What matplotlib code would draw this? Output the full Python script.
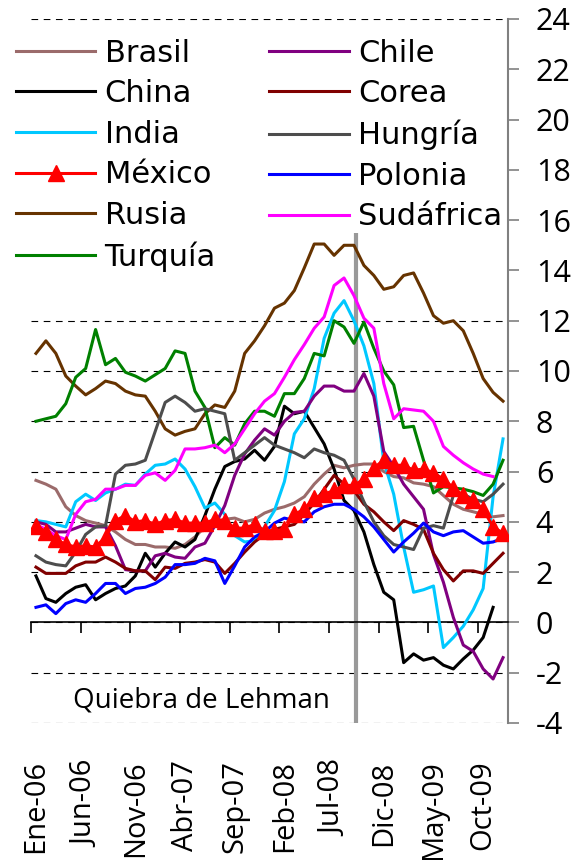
import matplotlib.pyplot as plt
from matplotlib.patches import Rectangle
import numpy as np

plt.rcParams['font.family'] = ['Open Sans', 'DejaVu Sans']
plt.rcParams['axes.unicode_minus'] = False

# Meses: Ene-06 ... Dic-09 (48 meses)
meses = ['Ene', 'Feb', 'Mar', 'Abr', 'May', 'Jun', 'Jul', 'Ago', 'Sep', 'Oct', 'Nov', 'Dic']
etiquetas = [f'{m}-{a:02d}' for a in range(6, 10) for m in meses]

brasil = [5.65, 5.5, 5.3, 4.6, 4.25, 4.05, 3.95, 3.85, 3.6, 3.3, 3.1, 3.1,
          3.0, 3.0, 2.95, 3.1, 3.4, 3.8, 4.0, 4.1, 4.15, 4.0, 4.1, 4.35,
          4.5, 4.6, 4.75, 5.0, 5.5, 5.9, 6.25, 6.15, 6.25, 6.3, 6.3, 6.0,
          5.8, 5.75, 5.55, 5.5, 5.4, 5.05, 4.7, 4.5, 4.4, 4.3, 4.2, 4.25]
china = [1.85, 0.95, 0.8, 1.15, 1.4, 1.5, 0.9, 1.15, 1.35, 1.45, 1.85, 2.75,
         2.2, 2.75, 3.2, 3.0, 3.3, 4.25, 5.3, 6.2, 6.4, 6.5, 6.85, 6.45,
         7.0, 8.6, 8.3, 8.4, 7.75, 7.1, 6.1, 4.85, 4.45, 3.6, 2.3, 1.2,
         0.9, -1.6, -1.25, -1.5, -1.4, -1.7, -1.85, -1.45, -1.1, -0.6, 0.6, np.nan]
india = [4.05, 4.0, 3.9, 3.8, 4.8, 5.1, 4.85, 5.15, 5.3, 5.5, 5.45, 5.9,
         6.25, 6.3, 6.5, 6.1, 5.4, 4.55, 4.75, 4.3, 3.45, 3.2, 3.25, 3.8,
         4.45, 5.6, 7.5, 8.1, 9.3, 11.3, 12.3, 12.8, 12.0, 11.0, 9.5, 6.4,
         5.1, 3.0, 1.2, 1.3, 1.45, -1.0, -0.6, -0.15, 0.5, 1.35, 5.0, 7.3]
mexico = [3.85, 3.6, 3.3, 3.1, 3.0, 3.05, 3.0, 3.4, 4.05, 4.25, 4.0, 4.05,
          3.9, 4.05, 4.1, 3.95, 3.95, 3.95, 4.1, 4.05, 3.75, 3.75, 3.9, 3.65,
          3.65, 3.7, 4.3, 4.5, 4.95, 5.1, 5.25, 5.45, 5.45, 5.7, 6.15, 6.45,
          6.25, 6.25, 6.05, 6.1, 5.95, 5.7, 5.35, 5.05, 4.85, 4.5, 3.8, 3.55]
rusia = [10.7, 11.2, 10.7, 9.8, 9.4, 9.05, 9.3, 9.6, 9.5, 9.2, 9.05, 9.0,
         8.4, 7.7, 7.45, 7.6, 7.7, 8.3, 8.65, 8.55, 9.2, 10.7, 11.2, 11.8,
         12.5, 12.7, 13.2, 14.1, 15.05, 15.05, 14.6, 15.0, 15.0, 14.2, 13.8, 13.25,
         13.35, 13.8, 13.9, 13.1, 12.2, 11.9, 12.0, 11.6, 10.7, 9.7, 9.15, 8.8]
turquia = [8.0, 8.1, 8.2, 8.7, 9.75, 10.1, 11.65, 10.25, 10.5, 9.95, 9.8, 9.6,
           9.85, 10.1, 10.8, 10.7, 9.2, 8.55, 6.95, 7.35, 7.05, 7.9, 8.4, 8.4,
           8.2, 9.1, 9.1, 9.7, 10.7, 10.6, 12.0, 11.75, 11.1, 11.95, 10.9, 10.0,
           9.45, 7.75, 7.8, 6.45, 5.15, 5.4, 5.35, 5.3, 5.2, 5.05, 5.5, 6.45]
chile = [4.0, 3.9, 3.6, 3.6, 3.75, 3.9, 3.8, 3.8, 3.05, 2.1, 2.05, 2.05,
         2.65, 2.75, 2.6, 2.55, 3.0, 3.15, 3.85, 4.65, 5.85, 6.7, 7.25, 7.7,
         7.45, 8.0, 8.35, 8.4, 9.0, 9.4, 9.4, 9.2, 9.2, 9.9, 9.0, 6.8,
         6.2, 5.5, 5.0, 4.5, 2.7, 1.6, 0.2, -0.9, -1.15, -1.85, -2.25, -1.4]
corea = [2.2, 1.95, 1.95, 1.95, 2.25, 2.4, 2.4, 2.6, 2.4, 2.15, 2.05, 2.05,
         1.7, 2.2, 2.15, 2.35, 2.4, 2.5, 2.4, 1.95, 2.35, 2.8, 3.2, 3.5,
         3.7, 3.8, 3.9, 4.3, 4.75, 5.3, 5.85, 5.5, 5.25, 4.7, 4.4, 4.0,
         3.65, 4.05, 3.9, 3.7, 2.75, 2.1, 1.65, 2.05, 2.05, 1.95, 2.35, 2.75]
hungria = [2.65, 2.4, 2.3, 2.25, 2.8, 3.5, 3.8, 3.85, 5.9, 6.25, 6.3, 6.45,
           7.6, 8.75, 9.0, 8.75, 8.4, 8.5, 8.4, 8.3, 6.45, 6.75, 7.05, 7.35,
           7.05, 6.9, 6.75, 6.55, 6.9, 6.75, 6.65, 6.45, 5.7, 4.8, 4.0, 3.45,
           3.1, 3.0, 2.9, 3.75, 3.85, 3.75, 5.05, 5.1, 4.9, 4.8, 5.1, 5.5]
polonia = [0.6, 0.7, 0.35, 0.75, 0.9, 0.8, 1.15, 1.55, 1.55, 1.15, 1.35, 1.4,
           1.55, 1.8, 2.3, 2.3, 2.35, 2.55, 2.45, 1.55, 2.25, 3.0, 3.4, 3.6,
           3.95, 4.15, 4.05, 4.0, 4.4, 4.6, 4.7, 4.7, 4.5, 4.2, 3.8, 3.3,
           2.8, 3.2, 3.55, 3.95, 3.6, 3.45, 3.6, 3.65, 3.4, 3.15, 3.2, 3.35]
sudafrica = [3.9, 3.7, 3.45, 3.3, 4.3, 4.8, 4.9, 5.3, 5.3, 5.45, 5.45, 5.85,
             5.95, 5.65, 6.05, 6.9, 6.9, 6.95, 7.05, 6.75, 7.1, 7.7, 8.3, 8.8,
             9.1, 9.75, 10.45, 11.05, 11.7, 12.15, 13.4, 13.7, 13.0, 12.1, 11.7, 9.5,
             8.1, 8.5, 8.45, 8.4, 8.0, 7.0, 6.65, 6.35, 6.1, 5.9, 5.8, np.nan]

lehman_x = 32.7      # posición de la quiebra de Lehman (sep-08)
lehman_top = 15.5

x = np.arange(len(etiquetas)) + 0.5

fig = plt.figure(figsize=(5.74, 8.6), dpi=100)
ax = fig.add_axes([31 / 574, 1 - 723 / 860, 477 / 574, 704 / 860])

series = [
    ('Brasil', brasil, '#9B6B6B'),
    ('China', china, 'black'),
    ('India', india, '#00C8FF'),
    ('Rusia', rusia, '#663300'),
    ('Turquía', turquia, '#008000'),
    ('Chile', chile, '#800080'),
    ('Corea', corea, '#800000'),
    ('Hungría', hungria, '#4D4D4D'),
    ('Polonia', polonia, '#0000FF'),
    ('Sudáfrica', sudafrica, '#FF00FF'),
]
handles = {}
for nombre, datos, color in series:
    handles[nombre], = ax.plot(x, datos, color=color, lw=2.2, zorder=3, label=nombre)
handles['México'], = ax.plot(x, mexico, color='red', lw=2.2, marker='^', ms=11,
                             zorder=4, label='México')

ax.vlines(lehman_x, -4, lehman_top, color='#999999', lw=3, zorder=2.5)
ax.text(17.2, -3.1, 'Quiebra de Lehman', fontsize=20, ha='center', va='center')

ax.set_xlim(0, 48)
ax.set_ylim(-4, 24)

# eje y a la derecha
ax.yaxis.tick_right()
ax.set_yticks(np.arange(-4, 25, 2))
ax.tick_params(axis='y', direction='out', length=8, width=1.2, color='#808080',
               labelsize=22, pad=12)
ax.spines['right'].set_color('#808080')
ax.spines['right'].set_linewidth(1.5)
ax.spines['left'].set_visible(False)
ax.spines['top'].set_visible(False)

# eje x en cero
ax.spines['bottom'].set_position(('data', 0))
ax.spines['bottom'].set_linewidth(1.2)
ax.set_xticks(np.arange(0, 48, 5))
ax.set_xticklabels([])
ax.tick_params(axis='x', direction='out', length=8, width=1.2)
for i in range(0, 48, 5):
    ax.text(i + 0.5, -0.053, etiquetas[i], transform=ax.get_xaxis_transform(),
            rotation=90, ha='center', va='top', fontsize=21)

ax.yaxis.grid(True, linestyle=(0, (6, 5)), color='black', lw=0.8)
ax.set_axisbelow(True)

# fondo blanco de la leyenda (tapa la cuadrícula)
ax.add_patch(Rectangle((0, 0.629), 1, 0.358, transform=ax.transAxes,
                       facecolor='white', edgecolor='none', zorder=1))

orden = ['Brasil', 'China', 'India', 'México', 'Rusia', 'Turquía',
         'Chile', 'Corea', 'Hungría', 'Polonia', 'Sudáfrica']
leg = ax.legend([handles[n] for n in orden], orden, ncol=2, loc='upper left',
                bbox_to_anchor=(16 / 574, 1 - 38.5 / 860), bbox_transform=fig.transFigure,
                prop={'family': 'DejaVu Sans', 'size': 22}, frameon=False,
                borderpad=0, labelspacing=0.38, handlelength=2.6,
                handletextpad=0.3, columnspacing=1.75, borderaxespad=0)

fig.savefig('out.png', dpi=100)
